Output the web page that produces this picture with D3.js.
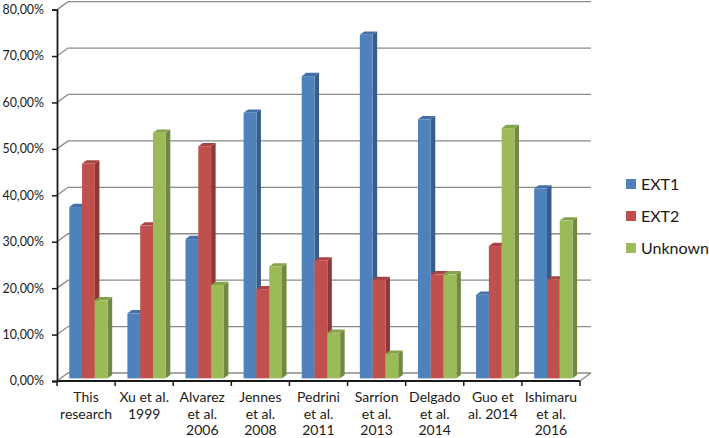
<!DOCTYPE html>
<html>
<head>
<meta charset="utf-8">
<script src="https://cdn.jsdelivr.net/npm/d3@7"></script>
<style>
  body { margin: 0; background: #fff; }
  text { font-family: Lato, "Liberation Sans", sans-serif; fill: #1a1a1a; }
</style>
</head>
<body>
<script>
// data (percent)
const categories = [
  ["This", "research"], ["Xu et al.", "1999"], ["Alvarez", "et al.", "2006"],
  ["Jennes", "et al.", "2008"], ["Pedrini", "et al.", "2011"], ["Sarríon", "et al.", "2013"],
  ["Delgado", "et al.", "2014"], ["Guo et", "al. 2014"], ["Ishimaru", "et al.", "2016"]
];
const seriesNames = ["EXT1", "EXT2", "Unknown"];
const ext1 = [36.9, 14.0, 30.0, 57.2, 65.1, 74.0, 55.8, 18.0, 40.9];
const ext2 = [46.3, 32.9, 50.0, 19.2, 25.4, 21.2, 22.4, 28.5, 21.3];
const unknown = [16.8, 52.9, 20.1, 24.1, 9.8, 5.3, 22.4, 53.9, 34.0];
const yTicks = [0, 10, 20, 30, 40, 50, 60, 70, 80];

const front = ["#4f81bd", "#c0504d", "#9bbb59"];
const side = ["#385d8a", "#8c3836", "#71893f"];
const top_ = ["#4470a8", "#a84543", "#86a34c"];

const W = 709, H = 438;
const DX = 11, DY = -8;         // depth of the plot box
const dFront = 0.33, dBar = 0.41; // bar placement in depth

const svg = d3.select("body").append("svg")
  .attr("width", W).attr("height", H);

const x = d3.scaleBand().domain(d3.range(categories.length)).range([57, 580]);
const y = d3.scaleLinear().domain([0, 80]).range([381, 9.6]);

const fmt = v => d3.format(".2f")(v).replace(".", ",") + "%";

// gridlines: left wall diagonal + back wall horizontal
svg.append("g").selectAll("path")
  .data(yTicks)
  .join("path")
  .attr("d", v => `M57,${y(v)}L${57 + DX},${y(v) + DY}H${580 + DX}`)
  .attr("fill", "none")
  .attr("stroke", "#8a8a8a")
  .attr("stroke-width", 1.3);

// right edge of floor
svg.append("path")
  .attr("d", `M580,${y(0)}L${580 + DX},${y(0) + DY}`)
  .attr("stroke", "#8a8a8a").attr("stroke-width", 1.3);

// bars
const series = [ext1, ext2, unknown];
const groupW = 38.4, barW = groupW / 3;
const sx = DX * dBar, sy = DY * dBar;

const bars = [];
categories.forEach((c, i) => {
  series.forEach((s, j) => {
    const bx = x(i) + (x.bandwidth() - groupW) / 2 + DX * dFront - 1.2 + j * barW;
    bars.push({ bx, yt: y(s[i]) + DY * dFront, yb: y(0) + DY * dFront, j });
  });
});

const g = svg.append("g").selectAll("g").data(bars).join("g");
g.append("polygon")
  .attr("points", d => [[d.bx + barW, d.yt], [d.bx + barW + sx, d.yt + sy],
    [d.bx + barW + sx, d.yb + sy], [d.bx + barW, d.yb]].join(" "))
  .attr("fill", d => side[d.j]);
g.append("polygon")
  .attr("points", d => [[d.bx, d.yt], [d.bx + sx, d.yt + sy],
    [d.bx + barW + sx, d.yt + sy], [d.bx + barW, d.yt]].join(" "))
  .attr("fill", d => top_[d.j]);
g.append("rect")
  .attr("x", d => d.bx).attr("y", d => d.yt)
  .attr("width", barW).attr("height", d => d.yb - d.yt)
  .attr("fill", d => front[d.j]);

// y axis
const yAxis = svg.append("g").attr("transform", "translate(57,0)")
  .call(d3.axisLeft(y).tickValues(yTicks).tickFormat(fmt).tickSize(5).tickPadding(8));
yAxis.select(".domain").attr("stroke", "#1a1a1a").attr("stroke-width", 1.8);
yAxis.selectAll(".tick line").attr("stroke", "#1a1a1a").attr("stroke-width", 1.5);
yAxis.selectAll(".tick text").attr("font-size", 12.4).attr("font-family", "Lato, sans-serif").attr("fill", "#1a1a1a");

// x axis
svg.append("line")
  .attr("x1", 57).attr("x2", 580).attr("y1", y(0)).attr("y2", y(0))
  .attr("stroke", "#1a1a1a").attr("stroke-width", 1.8);
svg.append("g").selectAll("line")
  .data(d3.range(categories.length + 1))
  .join("line")
  .attr("x1", k => 57 + k * x.step()).attr("x2", k => 57 + k * x.step())
  .attr("y1", y(0)).attr("y2", y(0) + 5)
  .attr("stroke", "#1a1a1a").attr("stroke-width", 1.5);

svg.append("g").selectAll("text")
  .data(categories)
  .join("text")
  .attr("text-anchor", "middle")
  .attr("font-size", 14)
  .each(function (lines, i) {
    d3.select(this).selectAll("tspan").data(lines).join("tspan")
      .attr("x", x(i) + x.bandwidth() / 2)
      .attr("y", (l, k) => 402 + k * 16.5)
      .text(l => l);
  });

// legend
const lg = svg.append("g").selectAll("g").data(seriesNames).join("g")
  .attr("transform", (d, i) => `translate(626,${184 + i * 32})`);
lg.append("rect").attr("x", 0).attr("y", -5).attr("width", 10).attr("height", 10)
  .attr("fill", (d, i) => front[i]);
lg.append("text").attr("x", 15).attr("y", 5.5).attr("font-size", 16).text(d => d);
</script>
</body>
</html>
